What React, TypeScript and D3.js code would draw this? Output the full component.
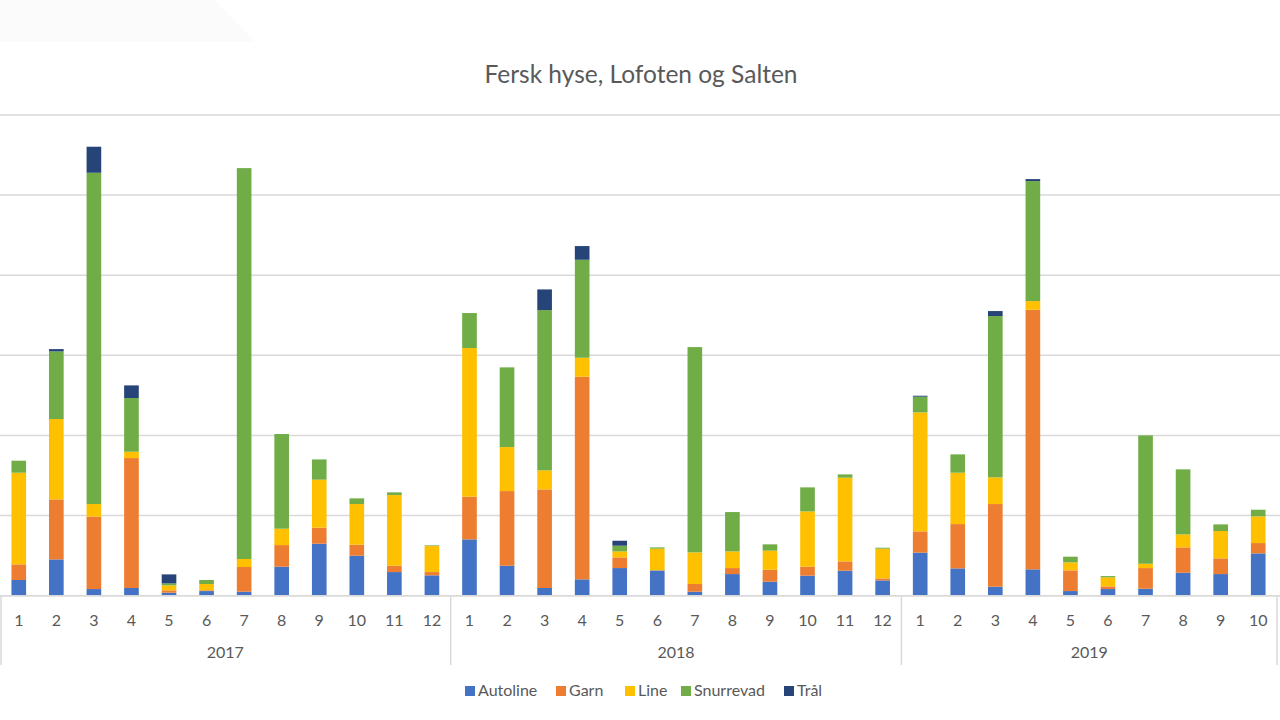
import React from "react";
import * as d3 from "d3";

const years = ["2017", "2018", "2019"];
const monthsPerYear = [12, 12, 10];
const seriesNames = ["Autoline", "Garn", "Line", "Snurrevad", "Trål"];
const seriesColors = ["#4472C4", "#ED7D31", "#FFC000", "#70AD47", "#264478"];

const autoline = [196, 453, 83, 96, 37, 58, 50, 362, 649, 499, 295, 254,
  703, 374, 96, 204, 345, 316, 50, 270, 175, 250, 312, 191,
  537, 341, 112, 329, 58, 83, 87, 287, 270, 528];
const garn = [195, 749, 903, 1622, 30, 9, 308, 270, 200, 137, 79, 41,
  533, 932, 1231, 2529, 133, 0, 96, 75, 149, 112, 116, 25,
  266, 553, 1032, 3240, 258, 33, 258, 316, 196, 129];
const line = [1144, 1003, 158, 79, 62, 79, 100, 204, 599, 508, 882, 325,
  1855, 549, 237, 237, 75, 271, 395, 208, 238, 690, 1045, 371,
  1485, 641, 333, 108, 100, 113, 54, 162, 341, 333];
const snurrevad = [150, 844, 4135, 670, 25, 50, 4879, 1182, 253, 71, 34, 8,
  437, 995, 2001, 1223, 71, 16, 2562, 491, 79, 300, 41, 12,
  196, 229, 2013, 1498, 71, 16, 1602, 812, 83, 83];
const tral = [0, 29, 325, 158, 112, 0, 0, 0, 0, 0, 0, 0,
  0, 0, 258, 171, 62, 0, 0, 0, 0, 0, 0, 0,
  12, 0, 63, 25, 0, 0, 0, 0, 0, 0];
const yTicks = [0, 1000, 2000, 3000, 4000, 5000, 6000];

const W = 1280;
const H = 720;
const plotLeft = 0;
const plotRight = 1277;
const plotTop = 115;
const plotBottom = 595.7;
const font = "Lato, 'Open Sans', sans-serif";
const textColor = "#595959";
const gridColor = "#d9d9d9";

export default function App() {
  const cats: { key: string; year: string; month: number }[] = [];
  years.forEach((y, yi) => {
    for (let m = 1; m <= monthsPerYear[yi]; m++) cats.push({ key: `${y}-${m}`, year: y, month: m });
  });
  const allSeries = [autoline, garn, line, snurrevad, tral];
  const rows = cats.map((c, i) => {
    const r: any = { key: c.key };
    seriesNames.forEach((s, si) => (r[s] = allSeries[si][i]));
    return r;
  });
  const stacked = d3.stack().keys(seriesNames)(rows);

  const x = d3.scaleBand().domain(cats.map((c) => c.key)).range([plotLeft, plotRight]).paddingInner(0.61).paddingOuter(0.305);
  const y = d3.scaleLinear().domain([0, 6000]).range([plotBottom, plotTop]);
  const step = x.step();

  const boundaries: number[] = [];
  let idx = 0;
  const yearCenters: { year: string; cx: number }[] = [];
  years.forEach((yr, yi) => {
    const start = plotLeft + idx * step;
    const end = plotLeft + (idx + monthsPerYear[yi]) * step;
    boundaries.push(start);
    yearCenters.push({ year: yr, cx: (start + end) / 2 });
    idx += monthsPerYear[yi];
  });
  boundaries.push(plotLeft + idx * step);

  const legendX = [465, 556, 625, 681, 784];

  return (
    <div style={{ position: "absolute", left: 0, top: 0 }}>
      <svg width={W} height={H} style={{ display: "block", background: "#fff" }}>
        <polygon points="0,0 215,0 255,42 0,42" fill="#fbfbfb" />
        <text x={641} y={83} textAnchor="middle" fontFamily={font} fontSize={24.5} fill={textColor}>
          Fersk hyse, Lofoten og Salten
        </text>
        {yTicks.map((t) => (
          <line key={t} x1={0} x2={W} y1={y(t)} y2={y(t)} stroke={gridColor} strokeWidth={1.5} />
        ))}
        {stacked.map((s, si) => (
          <g key={s.key} fill={seriesColors[si]}>
            {s.map((d, i) => {
              const h = y(d[0]) - y(d[1]);
              if (h <= 0) return null;
              return <rect key={i} x={x(cats[i].key)} y={y(d[1])} width={x.bandwidth()} height={h} />;
            })}
          </g>
        ))}
        <line x1={0} x2={W} y1={plotBottom} y2={plotBottom} stroke={gridColor} strokeWidth={1.5} />
        {boundaries.map((b, i) => (
          <line key={i} x1={Math.max(b, 1)} x2={Math.max(b, 1)} y1={plotBottom} y2={665} stroke={gridColor} strokeWidth={1.5} />
        ))}
        {cats.map((c) => (
          <text key={c.key} x={(x(c.key) as number) + x.bandwidth() / 2} y={626} textAnchor="middle" fontFamily={font} fontSize={16} fill={textColor}>
            {c.month}
          </text>
        ))}
        {yearCenters.map((yc) => (
          <text key={yc.year} x={yc.cx} y={658} textAnchor="middle" fontFamily={font} fontSize={16} fill={textColor}>
            {yc.year}
          </text>
        ))}
        {seriesNames.map((s, si) => (
          <g key={s}>
            <rect x={legendX[si]} y={686} width={10} height={10} fill={seriesColors[si]} />
            <text x={legendX[si] + 13} y={696} fontFamily={font} fontSize={16} fill={textColor}>
              {s}
            </text>
          </g>
        ))}
      </svg>
    </div>
  );
}
